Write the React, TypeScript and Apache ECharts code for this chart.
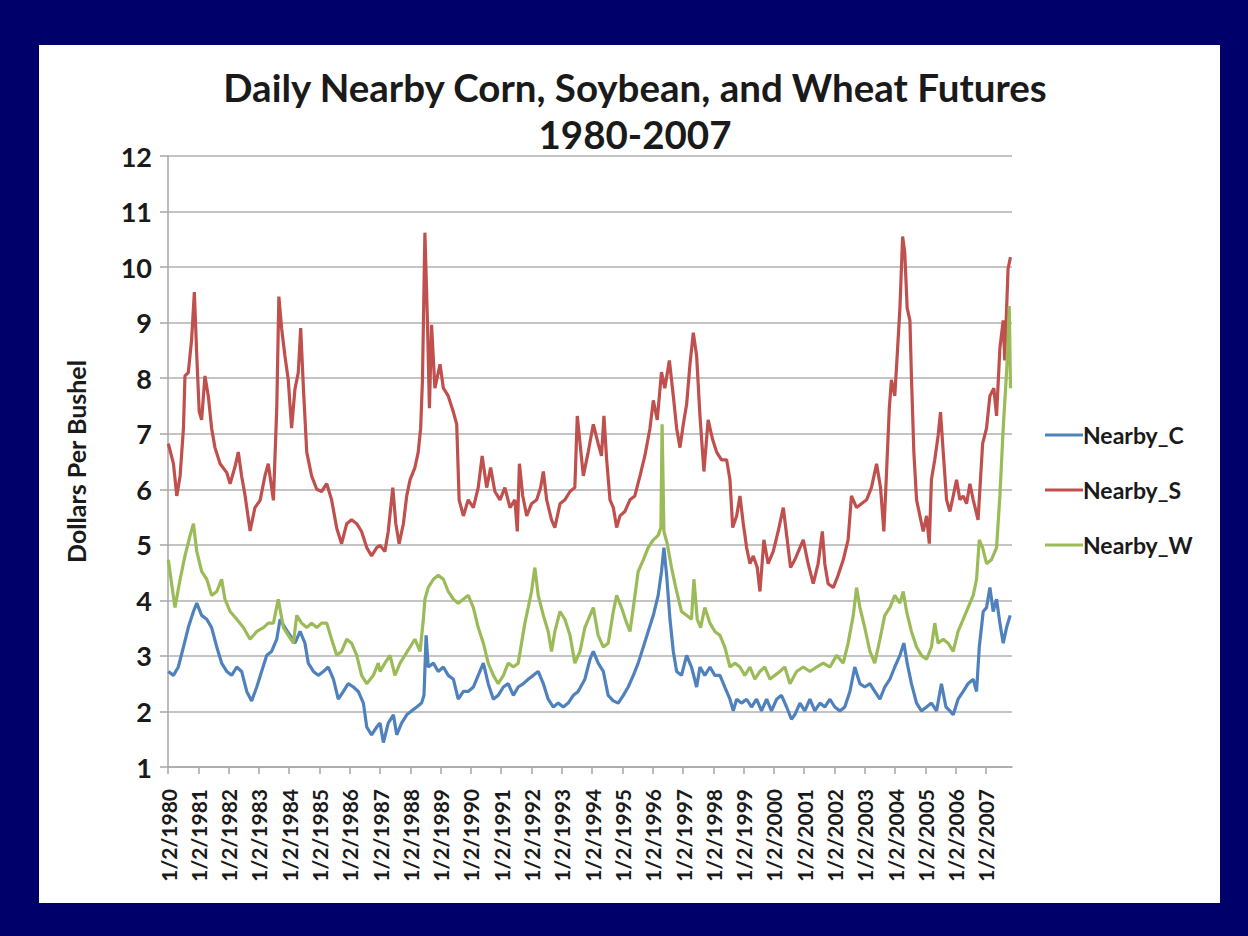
import React, { useEffect, useRef } from "react";
import * as echarts from "echarts";

const titleLines = ["Daily Nearby Corn, Soybean, and Wheat Futures", "1980-2007"];
const yAxisName = "Dollars Per Bushel";
const seriesNames = ["Nearby_C", "Nearby_S", "Nearby_W"];
const colors = ["#4f81bd", "#c0504d", "#9bbb59"];

// [decimal year, dollars per bushel]
const soybean: [number, number][] = [
  [1980.01, 6.82], [1980.18, 6.46], [1980.29, 5.88], [1980.4, 6.24], [1980.51, 7.1], [1980.56, 8.04], [1980.67, 8.1], [1980.78, 8.7], [1980.87, 9.55], [1980.95, 8.4],
  [1981.03, 7.4], [1981.11, 7.25], [1981.22, 8.04], [1981.33, 7.68], [1981.44, 7.1], [1981.55, 6.75], [1981.72, 6.46], [1981.94, 6.3], [1982.05, 6.1], [1982.21, 6.4],
  [1982.32, 6.67], [1982.43, 6.24], [1982.54, 5.9], [1982.71, 5.25], [1982.87, 5.67], [1983.04, 5.8], [1983.2, 6.24], [1983.31, 6.46], [1983.48, 5.8], [1983.59, 7.46],
  [1983.66, 9.47], [1983.75, 8.9], [1983.86, 8.4], [1983.97, 7.97], [1984.08, 7.1], [1984.19, 7.8], [1984.3, 8.1], [1984.38, 8.9], [1984.47, 7.82], [1984.58, 6.67],
  [1984.74, 6.24], [1984.91, 6.0], [1985.07, 5.96], [1985.24, 6.1], [1985.4, 5.81], [1985.57, 5.3], [1985.73, 5.02], [1985.9, 5.38], [1986.06, 5.45], [1986.23, 5.38],
  [1986.39, 5.24], [1986.56, 4.95], [1986.72, 4.8], [1986.89, 4.95], [1987.0, 4.99], [1987.16, 4.88], [1987.27, 5.24], [1987.42, 6.03], [1987.52, 5.38], [1987.63, 5.02],
  [1987.77, 5.38], [1987.88, 5.88], [1987.99, 6.17], [1988.15, 6.39], [1988.26, 6.67], [1988.34, 7.1], [1988.4, 7.97], [1988.48, 10.62], [1988.56, 9.11], [1988.63, 7.46],
  [1988.7, 8.96], [1988.81, 7.82], [1988.98, 8.25], [1989.09, 7.82], [1989.25, 7.68], [1989.42, 7.39], [1989.53, 7.17], [1989.61, 5.81], [1989.75, 5.52], [1989.91, 5.81],
  [1990.08, 5.67], [1990.24, 6.03], [1990.37, 6.6], [1990.52, 6.03], [1990.65, 6.39], [1990.79, 5.96], [1990.96, 5.81], [1991.12, 6.03], [1991.29, 5.67], [1991.45, 5.81],
  [1991.53, 5.24], [1991.6, 6.46], [1991.71, 5.88], [1991.84, 5.52], [1992.0, 5.74], [1992.17, 5.81], [1992.3, 6.03], [1992.39, 6.32], [1992.5, 5.81], [1992.66, 5.45],
  [1992.77, 5.31], [1992.94, 5.74], [1993.1, 5.81], [1993.27, 5.96], [1993.43, 6.03], [1993.51, 7.32], [1993.71, 6.24], [1993.87, 6.67], [1994.04, 7.17], [1994.2, 6.82],
  [1994.31, 6.6], [1994.39, 7.32], [1994.48, 6.53], [1994.59, 5.81], [1994.7, 5.67], [1994.81, 5.31], [1994.92, 5.52], [1995.08, 5.6], [1995.25, 5.81], [1995.41, 5.88],
  [1995.58, 6.24], [1995.74, 6.6], [1995.91, 7.1], [1996.02, 7.6], [1996.15, 7.25], [1996.29, 8.11], [1996.4, 7.82], [1996.55, 8.32], [1996.68, 7.68], [1996.79, 7.1],
  [1996.9, 6.75], [1997.01, 7.17], [1997.12, 7.53], [1997.23, 8.25], [1997.34, 8.82], [1997.45, 8.4], [1997.56, 7.32], [1997.69, 6.32], [1997.83, 7.25], [1997.98, 6.89],
  [1998.11, 6.67], [1998.27, 6.53], [1998.44, 6.53], [1998.55, 6.17], [1998.64, 5.31], [1998.77, 5.52], [1998.88, 5.88], [1998.99, 5.38], [1999.1, 4.95], [1999.21, 4.66],
  [1999.32, 4.8], [1999.45, 4.59], [1999.54, 4.16], [1999.67, 5.09], [1999.81, 4.66], [1999.98, 4.88], [2000.14, 5.24], [2000.31, 5.67], [2000.44, 5.09], [2000.55, 4.59],
  [2000.69, 4.73], [2000.86, 4.95], [2000.97, 5.09], [2001.13, 4.66], [2001.3, 4.3], [2001.46, 4.66], [2001.6, 5.24], [2001.68, 4.66], [2001.79, 4.3], [2001.96, 4.23],
  [2002.12, 4.45], [2002.29, 4.73], [2002.45, 5.09], [2002.56, 5.88], [2002.73, 5.67], [2002.89, 5.74], [2003.06, 5.81], [2003.22, 6.03], [2003.39, 6.46], [2003.52, 6.03],
  [2003.63, 5.24], [2003.72, 6.32], [2003.81, 7.46], [2003.88, 7.97], [2003.99, 7.68], [2004.07, 8.4], [2004.16, 9.26], [2004.25, 10.55], [2004.32, 10.26], [2004.4, 9.26],
  [2004.49, 9.04], [2004.54, 8.04], [2004.62, 6.67], [2004.71, 5.81], [2004.82, 5.52], [2004.93, 5.24], [2005.04, 5.52], [2005.13, 5.02], [2005.2, 6.17], [2005.31, 6.53],
  [2005.42, 6.96], [2005.5, 7.39], [2005.59, 6.67], [2005.7, 5.81], [2005.81, 5.6], [2005.92, 5.88], [2006.03, 6.17], [2006.14, 5.81], [2006.25, 5.88], [2006.36, 5.74],
  [2006.47, 6.1], [2006.58, 5.81], [2006.74, 5.45], [2006.89, 6.82], [2007.02, 7.1], [2007.13, 7.68], [2007.26, 7.82], [2007.35, 7.32], [2007.46, 8.54], [2007.57, 9.04],
  [2007.62, 8.32], [2007.73, 9.97], [2007.81, 10.18],
];

const wheat: [number, number][] = [
  [1980.01, 4.73], [1980.12, 4.3], [1980.23, 3.87], [1980.4, 4.38], [1980.56, 4.8], [1980.73, 5.17], [1980.84, 5.38], [1980.95, 4.88], [1981.11, 4.52], [1981.28, 4.38],
  [1981.44, 4.09], [1981.61, 4.16], [1981.77, 4.38], [1981.88, 4.02], [1982.05, 3.8], [1982.27, 3.66], [1982.49, 3.51], [1982.71, 3.3], [1982.93, 3.44], [1983.15, 3.51],
  [1983.31, 3.59], [1983.48, 3.59], [1983.64, 4.02], [1983.81, 3.51], [1983.97, 3.37], [1984.14, 3.23], [1984.25, 3.73], [1984.41, 3.59], [1984.58, 3.51], [1984.74, 3.59],
  [1984.91, 3.51], [1985.07, 3.59], [1985.24, 3.59], [1985.4, 3.3], [1985.57, 3.01], [1985.73, 3.08], [1985.9, 3.3], [1986.06, 3.23], [1986.23, 3.01], [1986.39, 2.65],
  [1986.56, 2.5], [1986.78, 2.65], [1986.94, 2.87], [1987.0, 2.72], [1987.16, 2.87], [1987.33, 3.01], [1987.49, 2.65], [1987.66, 2.87], [1987.82, 3.01], [1987.99, 3.16],
  [1988.15, 3.3], [1988.32, 3.08], [1988.43, 3.66], [1988.48, 4.02], [1988.59, 4.23], [1988.76, 4.38], [1988.92, 4.45], [1989.09, 4.38], [1989.25, 4.16], [1989.42, 4.02],
  [1989.58, 3.95], [1989.75, 4.02], [1989.91, 4.09], [1990.08, 3.87], [1990.24, 3.51], [1990.41, 3.23], [1990.57, 2.87], [1990.74, 2.65], [1990.9, 2.5], [1991.07, 2.65],
  [1991.23, 2.87], [1991.4, 2.8], [1991.56, 2.87], [1991.67, 3.23], [1991.78, 3.59], [1991.89, 3.87], [1992.0, 4.16], [1992.11, 4.59], [1992.22, 4.09], [1992.39, 3.73],
  [1992.55, 3.44], [1992.66, 3.08], [1992.77, 3.44], [1992.94, 3.8], [1993.1, 3.66], [1993.27, 3.37], [1993.43, 2.87], [1993.6, 3.08], [1993.76, 3.51], [1993.93, 3.73],
  [1994.04, 3.87], [1994.2, 3.37], [1994.37, 3.16], [1994.53, 3.23], [1994.7, 3.8], [1994.81, 4.09], [1994.97, 3.87], [1995.14, 3.59], [1995.25, 3.44], [1995.36, 3.87],
  [1995.52, 4.52], [1995.69, 4.73], [1995.85, 4.95], [1996.02, 5.09], [1996.18, 5.17], [1996.27, 5.31], [1996.31, 7.17], [1996.37, 5.24], [1996.48, 5.02], [1996.62, 4.59],
  [1996.79, 4.16], [1996.95, 3.8], [1997.12, 3.73], [1997.28, 3.66], [1997.36, 4.38], [1997.47, 3.66], [1997.58, 3.51], [1997.72, 3.87], [1997.89, 3.59], [1998.05, 3.44],
  [1998.22, 3.37], [1998.38, 3.16], [1998.55, 2.8], [1998.71, 2.87], [1998.88, 2.8], [1999.04, 2.65], [1999.21, 2.8], [1999.37, 2.58], [1999.54, 2.72], [1999.7, 2.8],
  [1999.87, 2.58], [2000.03, 2.65], [2000.2, 2.72], [2000.36, 2.8], [2000.53, 2.5], [2000.75, 2.72], [2000.97, 2.8], [2001.19, 2.72], [2001.41, 2.8], [2001.63, 2.87],
  [2001.85, 2.8], [2002.07, 3.01], [2002.29, 2.87], [2002.45, 3.23], [2002.62, 3.73], [2002.73, 4.23], [2002.84, 3.87], [2003.0, 3.51], [2003.17, 3.08], [2003.33, 2.87],
  [2003.5, 3.3], [2003.66, 3.73], [2003.83, 3.87], [2003.99, 4.09], [2004.16, 3.95], [2004.27, 4.16], [2004.38, 3.8], [2004.54, 3.44], [2004.71, 3.16], [2004.87, 3.01],
  [2005.04, 2.94], [2005.2, 3.16], [2005.31, 3.59], [2005.42, 3.23], [2005.59, 3.3], [2005.75, 3.23], [2005.92, 3.08], [2006.08, 3.44], [2006.25, 3.66], [2006.41, 3.87],
  [2006.58, 4.09], [2006.69, 4.38], [2006.78, 5.09], [2006.89, 4.95], [2007.02, 4.66], [2007.18, 4.73], [2007.35, 4.95], [2007.46, 5.88], [2007.57, 7.1], [2007.68, 8.11],
  [2007.73, 8.68], [2007.77, 9.3], [2007.81, 7.82],
];

const corn: [number, number][] = [
  [1980.01, 2.72], [1980.18, 2.65], [1980.34, 2.8], [1980.51, 3.16], [1980.67, 3.51], [1980.84, 3.8], [1980.95, 3.95], [1981.11, 3.73], [1981.28, 3.66], [1981.44, 3.51],
  [1981.61, 3.16], [1981.77, 2.87], [1981.94, 2.72], [1982.1, 2.65], [1982.27, 2.8], [1982.43, 2.72], [1982.6, 2.36], [1982.76, 2.19], [1982.93, 2.44], [1983.09, 2.72],
  [1983.26, 3.01], [1983.42, 3.08], [1983.59, 3.3], [1983.7, 3.66], [1983.86, 3.51], [1984.03, 3.37], [1984.19, 3.23], [1984.36, 3.44], [1984.52, 3.23], [1984.63, 2.87],
  [1984.8, 2.72], [1984.96, 2.65], [1985.13, 2.72], [1985.29, 2.8], [1985.46, 2.58], [1985.62, 2.22], [1985.79, 2.36], [1985.95, 2.5], [1986.12, 2.44], [1986.28, 2.36],
  [1986.45, 2.15], [1986.56, 1.72], [1986.72, 1.58], [1986.89, 1.72], [1987.0, 1.79], [1987.11, 1.44], [1987.27, 1.79], [1987.44, 1.94], [1987.55, 1.58], [1987.71, 1.79],
  [1987.88, 1.94], [1988.04, 2.01], [1988.21, 2.08], [1988.37, 2.15], [1988.45, 2.29], [1988.52, 3.37], [1988.59, 2.8], [1988.76, 2.87], [1988.92, 2.72], [1989.09, 2.8],
  [1989.25, 2.65], [1989.42, 2.58], [1989.58, 2.22], [1989.75, 2.36], [1989.91, 2.36], [1990.08, 2.44], [1990.24, 2.65], [1990.41, 2.87], [1990.57, 2.5], [1990.74, 2.22],
  [1990.9, 2.29], [1991.07, 2.44], [1991.23, 2.5], [1991.4, 2.29], [1991.56, 2.44], [1991.73, 2.5], [1991.89, 2.58], [1992.06, 2.65], [1992.22, 2.72], [1992.39, 2.5],
  [1992.55, 2.22], [1992.72, 2.08], [1992.88, 2.15], [1993.05, 2.08], [1993.21, 2.15], [1993.38, 2.29], [1993.54, 2.36], [1993.76, 2.58], [1993.93, 2.94], [1994.04, 3.08],
  [1994.2, 2.87], [1994.37, 2.72], [1994.53, 2.29], [1994.7, 2.19], [1994.86, 2.15], [1995.03, 2.29], [1995.19, 2.44], [1995.36, 2.65], [1995.52, 2.87], [1995.69, 3.16],
  [1995.85, 3.44], [1996.02, 3.73], [1996.18, 4.09], [1996.29, 4.52], [1996.37, 4.95], [1996.46, 4.45], [1996.57, 3.66], [1996.68, 3.08], [1996.79, 2.72], [1996.95, 2.65],
  [1997.12, 3.01], [1997.28, 2.8], [1997.45, 2.44], [1997.56, 2.8], [1997.72, 2.65], [1997.89, 2.8], [1998.05, 2.65], [1998.22, 2.65], [1998.38, 2.44], [1998.55, 2.22],
  [1998.66, 2.01], [1998.77, 2.22], [1998.93, 2.15], [1999.1, 2.22], [1999.26, 2.08], [1999.43, 2.22], [1999.59, 2.01], [1999.76, 2.22], [1999.92, 2.01], [2000.09, 2.22],
  [2000.25, 2.29], [2000.42, 2.08], [2000.58, 1.86], [2000.69, 1.94], [2000.86, 2.15], [2001.02, 2.01], [2001.19, 2.22], [2001.35, 2.01], [2001.52, 2.15], [2001.68, 2.08],
  [2001.85, 2.22], [2002.01, 2.08], [2002.18, 2.01], [2002.34, 2.08], [2002.51, 2.36], [2002.67, 2.8], [2002.84, 2.5], [2003.0, 2.44], [2003.17, 2.5], [2003.33, 2.36],
  [2003.5, 2.22], [2003.66, 2.44], [2003.83, 2.58], [2003.99, 2.8], [2004.16, 3.01], [2004.29, 3.23], [2004.4, 2.87], [2004.54, 2.5], [2004.71, 2.15], [2004.87, 2.01],
  [2005.04, 2.08], [2005.2, 2.15], [2005.37, 2.01], [2005.53, 2.5], [2005.68, 2.08], [2005.81, 2.01], [2005.92, 1.94], [2006.08, 2.22], [2006.25, 2.36], [2006.41, 2.5],
  [2006.58, 2.58], [2006.69, 2.36], [2006.78, 3.16], [2006.91, 3.8], [2007.02, 3.87], [2007.13, 4.23], [2007.24, 3.8], [2007.35, 4.02], [2007.46, 3.59], [2007.57, 3.23],
  [2007.68, 3.51], [2007.8, 3.73],
];

const xStart = 1980;
const xEnd = 2007.86;
const yMin = 1;
const yMax = 12;

export default function App() {
  const ref = useRef<HTMLDivElement>(null);

  useEffect(() => {
    if (!ref.current) return;
    const chart = echarts.init(ref.current, undefined, { renderer: "svg" });
    const font = "Lato, 'Open Sans', sans-serif";
    const seriesData = [corn, soybean, wheat];
    chart.setOption({
      animation: false,
      backgroundColor: "transparent",
      title: {
        text: titleLines.join("\n"),
        left: 630,
        top: 58,
        textAlign: "center",
        textStyle: {
          fontFamily: font,
          fontWeight: "bold",
          fontSize: 38.5,
          lineHeight: 47,
          color: "#1a1a1a",
        },
      },
      legend: {
        orient: "vertical",
        left: 1040,
        top: 418,
        itemWidth: 38,
        itemHeight: 3,
        itemGap: 31,
        icon: "rect",
        textStyle: {
          fontFamily: font,
          fontWeight: "bold",
          fontSize: 23,
          lineHeight: 24,
          color: "#1a1a1a",
          padding: [0, 0, 0, -5],
        },
        data: seriesNames,
      },
      grid: { left: 168, top: 156, right: 236, bottom: 169 },
      xAxis: {
        type: "value",
        min: xStart,
        max: xEnd,
        interval: 1,
        axisLine: { show: true, lineStyle: { color: "#a6a6a6", width: 1.5 } },
        axisTick: { show: true, inside: false, length: 7, lineStyle: { color: "#a6a6a6", width: 1.5 } },
        splitLine: { show: false },
        axisLabel: {
          rotate: 90,
          margin: 22,
          fontFamily: font,
          fontWeight: "bold",
          fontSize: 21,
          color: "#1a1a1a",
          showMaxLabel: false,
          formatter: (v: number) => (Math.abs(v - Math.round(v)) < 1e-6 ? `1/2/${Math.round(v)}` : ""),
        },
      },
      yAxis: {
        type: "value",
        min: yMin,
        max: yMax,
        interval: 1,
        name: yAxisName,
        nameLocation: "middle",
        nameGap: 80,
        nameTextStyle: {
          fontFamily: font,
          fontWeight: "bold",
          fontSize: 25,
          color: "#1a1a1a",
        },
        axisLine: { show: true, lineStyle: { color: "#a6a6a6", width: 1.5 } },
        axisTick: { show: true, inside: false, length: 8, lineStyle: { color: "#a6a6a6", width: 1.5 } },
        splitLine: { show: true, lineStyle: { color: "#b0b0b0", width: 1.5 } },
        axisLabel: {
          margin: 16,
          fontFamily: font,
          fontWeight: "bold",
          fontSize: 27,
          color: "#1a1a1a",
        },
      },
      series: seriesNames.map((name, i) => ({
        name,
        type: "line",
        data: seriesData[i],
        symbol: "none",
        color: colors[i],
        lineStyle: { color: colors[i], width: 3.2 },
        z: i === 2 ? 3 : 2,
      })),
    });
    return () => chart.dispose();
  }, []);

  return (
    <div style={{ position: "fixed", left: 0, top: 0, width: 1248, height: 936, background: "#00006b" }}>
      <div style={{ position: "absolute", left: 39, top: 45, width: 1181, height: 858, background: "#ffffff" }} />
      <div ref={ref} style={{ position: "absolute", left: 0, top: 0, width: 1248, height: 936 }} />
    </div>
  );
}
